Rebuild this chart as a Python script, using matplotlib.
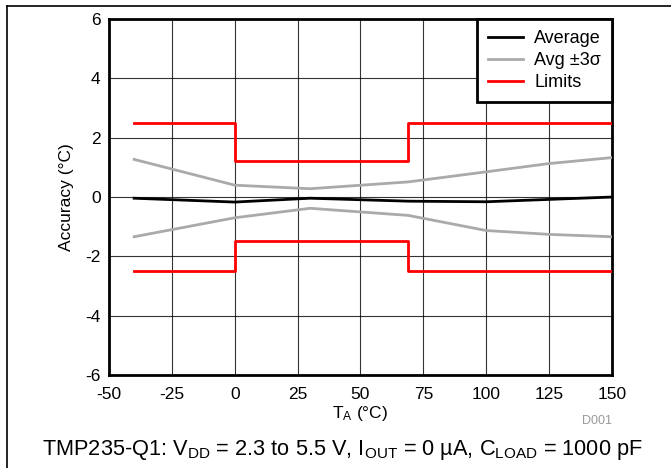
import matplotlib
matplotlib.use('Agg')
import matplotlib.pyplot as plt
from matplotlib.lines import Line2D

# ---- Data ----
temps = [-40, 0, 30, 69, 100, 125, 150]
avg = [-0.04, -0.17, -0.04, -0.14, -0.16, -0.08, 0.0]
upper_3s = [1.27, 0.40, 0.28, 0.51, 0.85, 1.13, 1.33]
lower_3s = [-1.34, -0.70, -0.38, -0.62, -1.13, -1.26, -1.34]

limit_t = [-40, 0, 0, 69, 69, 150]
limit_hi = [2.5, 2.5, 1.2, 1.2, 2.5, 2.5]
limit_lo = [-2.5, -2.5, -1.5, -1.5, -2.5, -2.5]

xticks = [-50, -25, 0, 25, 50, 75, 100, 125, 150]
yticks = [-6, -4, -2, 0, 2, 4, 6]

plt.rcParams.update({
    'font.family': 'Liberation Sans',
    'mathtext.fontset': 'custom',
    'mathtext.rm': 'Liberation Sans',
    'mathtext.it': 'Liberation Sans',
    'axes.unicode_minus': False,
    'font.size': 12,
})

fig = plt.figure(figsize=(6.71, 4.68), dpi=100)
ax = fig.add_axes([0.1624, 0.199, 0.7496, 0.760])

ax.plot(temps, avg, color='black', lw=2, label='Average', zorder=4)
ax.plot(temps, upper_3s, color='#aaaaaa', lw=2, label='Avg \u00b13\u03c3', zorder=3)
ax.plot(temps, lower_3s, color='#aaaaaa', lw=2, zorder=3)
ax.plot(limit_t, limit_hi, color='#ff0000', lw=2, label='Limits', zorder=3)
ax.plot(limit_t, limit_lo, color='#ff0000', lw=2, zorder=3)

ax.set_xlim(-50, 150)
ax.set_ylim(-6, 6)
ax.set_xticks(xticks)
ax.set_yticks(yticks)
ax.tick_params(length=0, labelsize=12.5)
ax.tick_params(axis='x', pad=9)
ax.tick_params(axis='y', pad=6)
ax.grid(True, color='black', lw=0.8, alpha=0.8)
ax.set_axisbelow(True)
for s in ax.spines.values():
    s.set_linewidth(2)

ax.set_xlabel('T$_{\\mathrm{A}}$ (\u00b0C)', fontsize=12.5, labelpad=1)
ax.set_ylabel('Accuracy (\u00b0C)', fontsize=12.5, labelpad=8)

leg = ax.legend(loc='upper right', borderaxespad=0, fancybox=False,
                framealpha=1, edgecolor='black', fontsize=13,
                handlelength=1.95, handletextpad=0.6, labelspacing=0.28,
                borderpad=0.6)
leg.get_frame().set_linewidth(2)

fig.text(0.912, 0.100, 'D001', color='#999999', fontsize=9, ha='right', va='center')
fig.text(0.51, 0.038,
         'TMP235-Q1: V$_{\\mathrm{DD}}$ = 2.3 to 5.5 V, I$_{\\mathrm{OUT}}$ = 0 \u00b5A, '
         'C$_{\\mathrm{LOAD}}$ = 1000 pF',
         fontsize=15.7, ha='center', va='center')

# outer frame (top and left edges)
fig.add_artist(Line2D([0.0104, 1.0], [0.987, 0.987], color='black', lw=1.2,
                      transform=fig.transFigure))
fig.add_artist(Line2D([0.0104, 0.0104], [0.0, 0.987], color='black', lw=1.2,
                      transform=fig.transFigure))

fig.savefig('out.png', dpi=100)
